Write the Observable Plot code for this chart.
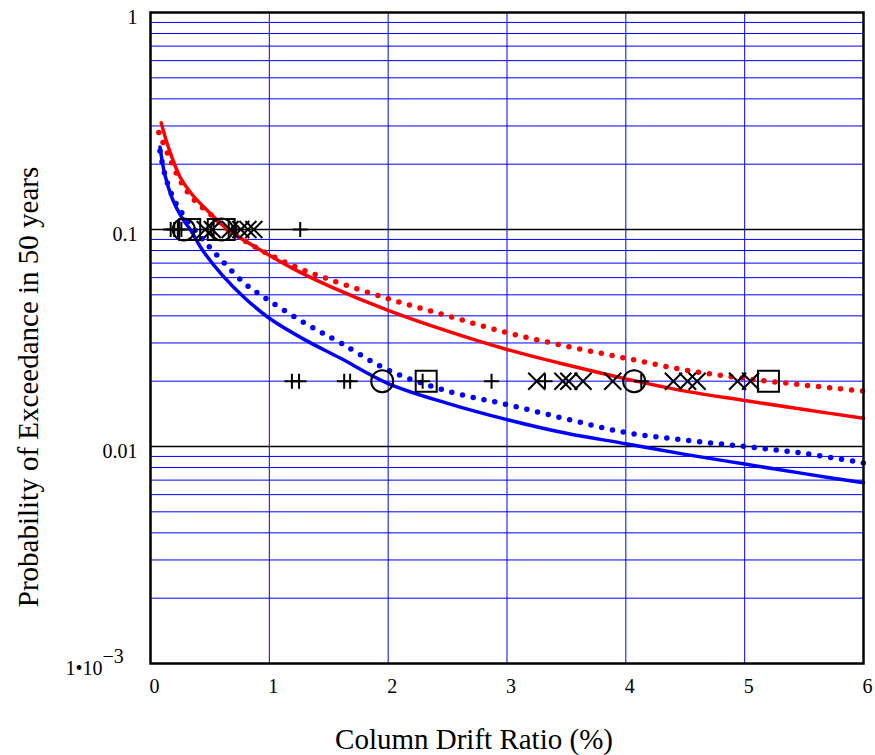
<!DOCTYPE html>
<html>
<head>
<meta charset="utf-8">
<script src="https://cdn.jsdelivr.net/npm/d3@7"></script>
<script src="https://cdn.jsdelivr.net/npm/@observablehq/plot@0.6"></script>
<style>
  html, body { margin: 0; padding: 0; background: #fff; }
  #chart { width: 875px; height: 755px; }
</style>
</head>
<body>
<div id="chart"></div>
<script>
// ---------- data ----------
const redSolidX = [0.09, 0.15, 0.25, 0.35, 0.48, 0.65, 0.9, 1.2, 1.5, 2.0, 2.5, 3.0, 3.5, 4.0, 4.5, 5.0, 5.5, 6.0];
const redSolidY = [0.31, 0.24, 0.174, 0.145, 0.122, 0.1, 0.082, 0.066, 0.055, 0.0424, 0.034, 0.028, 0.0238, 0.0205, 0.018, 0.0163, 0.0148, 0.0135];

const redDotX = [0.07, 0.15, 0.25, 0.35, 0.5, 0.65, 0.9, 1.2, 1.5, 2.0, 2.5, 3.0, 3.5, 4.0, 4.5, 5.0, 5.5, 6.0];
const redDotY = [0.28, 0.22, 0.168, 0.14, 0.118, 0.1, 0.082, 0.068, 0.059, 0.048, 0.040, 0.0335, 0.029, 0.0255, 0.0225, 0.0206, 0.0192, 0.018];

const blueSolidX = [0.08, 0.12, 0.19, 0.27, 0.34, 0.44, 0.6, 0.8, 1.0, 1.3, 1.6, 2.0, 2.5, 3.0, 3.5, 4.0, 4.5, 5.0, 5.5, 6.0];
const blueSolidY = [0.24, 0.18, 0.136, 0.112, 0.099, 0.08, 0.062, 0.048, 0.039, 0.031, 0.0255, 0.0195, 0.0158, 0.0133, 0.0115, 0.0103, 0.0092, 0.0083, 0.0075, 0.0068];

const blueDotX = [0.08, 0.12, 0.19, 0.27, 0.34, 0.44, 0.6, 0.8, 1.0, 1.3, 1.6, 2.0, 2.5, 3.0, 3.5, 4.0, 4.5, 5.0, 5.5, 6.0];
const blueDotY = [0.23, 0.18, 0.14, 0.118, 0.105, 0.09, 0.072, 0.056, 0.047, 0.037, 0.030, 0.0225, 0.018, 0.0156, 0.0134, 0.0116, 0.0107, 0.0100, 0.0093, 0.0084];

// markers (row at P = 0.1 and row at P = 0.02)
const rowHigh = 0.1;
const rowLow = 0.02;
const plusHighX = [0.17, 0.2, 0.23, 0.26, 0.72, 1.26];
const timesHighX = [0.46, 0.52, 0.67, 0.76, 0.82, 0.87];
const circleHighX = [0.28, 0.6];
const squareHighX = [0.33, 0.57, 0.62];

const plusLowX = [1.19, 1.25, 1.63, 1.68, 2.29, 2.87, 3.32, 4.13];
const timesLowX = [3.25, 3.47, 3.52, 3.64, 3.89, 4.40, 4.52, 4.60, 4.94, 5.05];
const circleLowX = [1.95, 4.07];
const squareLowX = [2.32, 5.2];

// axes
const yTicks = [1, 0.1, 0.01];
const yTickLabels = ["1", "0.1", "0.01"];
const xTicks = [0, 1, 2, 3, 4, 5, 6];
const xLabel = "Column Drift Ratio (%)";
const yLabel = "Probability of Exceedance in 50 years";

// ---------- build ----------
const toPts = (xs, ys) => xs.map((x, i) => ({x, y: ys[i]}));
const row = (xs, y) => xs.map(x => ({x, y}));

const minorY = [];
for (const e of [-3, -2, -1]) for (let m = 2; m <= 9; m++) minorY.push(m * Math.pow(10, e));

const symPlus = {draw(c) { const r = 7.5; c.moveTo(-r, 0); c.lineTo(r, 0); c.moveTo(0, -r); c.lineTo(0, r); }};
const symTimes = {draw(c) { const r = 8.5; c.moveTo(-r, -r); c.lineTo(r, r); c.moveTo(-r, r); c.lineTo(r, -r); }};
const symCircle = {draw(c) { const r = 11; c.moveTo(r, 0); c.arc(0, 0, r, 0, 2 * Math.PI); }};
const symSquare = {draw(c) { const h = 10.5; c.rect(-h, -h, 2 * h, 2 * h); }};

const serif = "'Liberation Serif', 'Times New Roman', serif";
const dotted = {strokeWidth: 5.5, strokeDasharray: "0 11", strokeLinecap: "round"};
const markerStyle = {fill: "none", stroke: "black", strokeWidth: 2};

const chart = Plot.plot({
  width: 875,
  height: 755,
  marginLeft: 150,
  marginRight: 12,
  marginTop: 12,
  marginBottom: 92,
  style: {fontFamily: serif, fontSize: "20px", color: "black", background: "white"},
  x: {domain: [0, 6]},
  y: {type: "log", domain: [0.001, 1]},
  marks: [
    Plot.ruleY(minorY, {stroke: "#0000ff", strokeWidth: 1}),
    Plot.ruleX([1, 2, 3, 4, 5], {stroke: "#0000ff", strokeWidth: 1}),
    Plot.ruleY([0.1, 0.01], {stroke: "black", strokeWidth: 1.5}),
    Plot.line(toPts(redDotX, redDotY), {x: "x", y: "y", stroke: "#ff0000", curve: "catmull-rom", ...dotted}),
    Plot.line(toPts(blueDotX, blueDotY), {x: "x", y: "y", stroke: "#0000ff", curve: "catmull-rom", ...dotted}),
    Plot.line(toPts(redSolidX, redSolidY), {x: "x", y: "y", stroke: "#ff0000", strokeWidth: 3.5, curve: "catmull-rom"}),
    Plot.line(toPts(blueSolidX, blueSolidY), {x: "x", y: "y", stroke: "#0000ff", strokeWidth: 3.5, curve: "catmull-rom"}),
    Plot.dot([...row(plusHighX, rowHigh), ...row(plusLowX, rowLow)], {x: "x", y: "y", symbol: symPlus, ...markerStyle}),
    Plot.dot([...row(timesHighX, rowHigh), ...row(timesLowX, rowLow)], {x: "x", y: "y", symbol: symTimes, ...markerStyle}),
    Plot.dot([...row(circleHighX, rowHigh), ...row(circleLowX, rowLow)], {x: "x", y: "y", symbol: symCircle, ...markerStyle}),
    Plot.dot([...row(squareHighX, rowHigh), ...row(squareLowX, rowLow)], {x: "x", y: "y", symbol: symSquare, ...markerStyle}),
    Plot.frame({stroke: "black", strokeWidth: 2.5}),
    Plot.axisY({ticks: yTicks, tickFormat: (d) => yTickLabels[yTicks.indexOf(d)], tickSize: 0, tickPadding: 13, dy: 5, label: null, fontSize: 20}),
    Plot.text([0.001], {y: (d) => d, text: () => "1\u202210", frameAnchor: "left", dx: -48, dy: 5, textAnchor: "end", fontSize: 20}),
    Plot.text([0.001], {y: (d) => d, text: () => "\u22123", frameAnchor: "left", dx: -48, dy: -7, textAnchor: "start", fontSize: 20}),
    Plot.axisX({ticks: xTicks, tickFormat: (d) => String(d), tickSize: 0, tickPadding: 15, dx: 4, label: null, fontSize: 20}),
    Plot.text([xLabel], {text: (d) => d, frameAnchor: "bottom", dx: -33, dy: 85, textAnchor: "middle", fontSize: 29}),
    Plot.text([yLabel], {text: (d) => d, frameAnchor: "left", rotate: -90, dx: -122, dy: 49, textAnchor: "middle", fontSize: 29})
  ]
});
document.getElementById("chart").appendChild(chart);
</script>
</body>
</html>
